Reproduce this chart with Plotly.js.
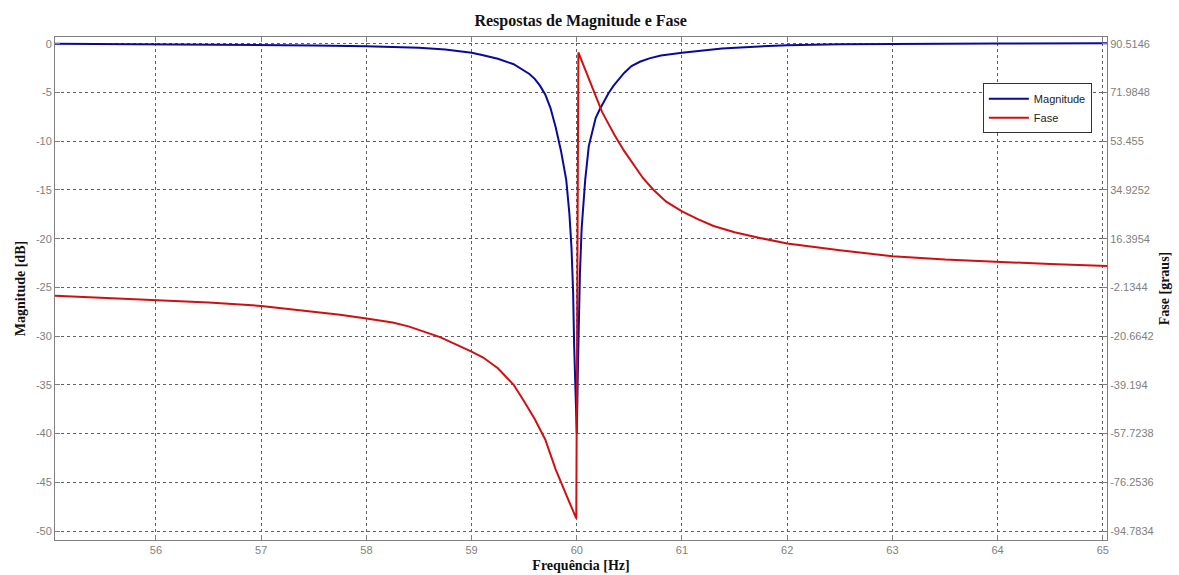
<!DOCTYPE html>
<html>
<head>
<meta charset="utf-8">
<script src="https://cdn.plot.ly/plotly-3.0.1.min.js"></script>
<style>html,body{margin:0;padding:0;background:#fff;}#chart{width:1179px;height:575px;}</style>
</head>
<body>
<div id="chart"></div>
<script>
// Magnitude response [dB]
const magFreq = [55.04, 56.0, 56.5, 57.0, 57.5, 58.0, 58.5, 58.75, 59.0, 59.1, 59.25, 59.4, 59.5, 59.55, 59.6, 59.65, 59.7, 59.75, 59.8, 59.85, 59.9, 59.93, 59.95, 59.965, 59.975, 59.99, 60.0, 60.012, 60.02, 60.03, 60.046, 60.06, 60.08, 60.114, 60.15, 60.18, 60.22, 60.26, 60.3, 60.35, 60.4, 60.45, 60.52, 60.6, 60.69, 60.8, 61.0, 61.2, 61.38, 61.6, 62.0, 62.5, 63.0, 64.0, 65.04];
const magDb = [0.0, -0.05, -0.09, -0.12, -0.18, -0.25, -0.42, -0.6, -0.93, -1.15, -1.55, -2.1, -2.76, -3.1, -3.6, -4.3, -5.2, -6.6, -8.6, -11.0, -14.0, -17.5, -21.0, -25.5, -31.0, -36.0, -40.0, -32.5, -27.0, -23.5, -19.0, -16.5, -13.96, -10.5, -8.9, -7.6, -6.7, -5.9, -5.1, -4.3, -3.6, -3.0, -2.3, -1.85, -1.5, -1.2, -0.93, -0.68, -0.5, -0.35, -0.15, -0.06, -0.02, 0.03, 0.05];

// Phase response [graus]
const phaseFreq = [55.04, 55.5, 56.0, 56.5, 57.0, 57.5, 57.75, 58.0, 58.25, 58.4, 58.5, 58.7, 59.0, 59.11, 59.25, 59.4, 59.5, 59.6, 59.7, 59.8, 59.9, 59.995, 60.015, 60.1, 60.19, 60.24, 60.3, 60.36, 60.45, 60.53, 60.63, 60.73, 60.85, 61.0, 61.15, 61.3, 61.5, 61.75, 62.0, 62.5, 63.0, 63.5, 64.0, 64.5, 65.04];
const phaseDeg = [-5.29, -6.03, -6.84, -7.88, -9.18, -11.40, -12.51, -13.99, -15.48, -16.96, -18.26, -21.04, -26.59, -28.82, -32.89, -39.19, -45.49, -52.17, -59.95, -71.43, -81.07, -89.97, 87.18, 78.66, 69.76, 64.57, 60.13, 55.68, 49.75, 44.93, 39.37, 34.92, 30.48, 26.77, 23.81, 21.21, 18.80, 16.58, 14.54, 11.95, 9.72, 8.43, 7.50, 6.76, 6.02];

// Tick labels
const xTicks = [56, 57, 58, 59, 60, 61, 62, 63, 64, 65];
const magTicks = [0, -5, -10, -15, -20, -25, -30, -35, -40, -45, -50];
const phaseTicks = [90.5146, 71.9848, 53.455, 34.9252, 16.3954, -2.1344, -20.6642, -39.194, -57.7238, -76.2536, -94.7834];
const phaseTickText = ['90.5146', '71.9848', '53.455', '34.9252', '16.3954', '-2.1344', '-20.6642', '-39.194', '-57.7238', '-76.2536', '-94.7834'];

const gridColor = '#606060';
const tickFont = {family: 'Liberation Sans, Arial, sans-serif', size: 11, color: '#808080'};
const titleFont = {family: 'Liberation Serif, Times New Roman, serif', size: 14, color: '#111111', weight: 'bold'};

const traces = [
  {x: magFreq, y: magDb, type: 'scatter', mode: 'lines', name: 'Magnitude',
   line: {color: '#0a0a9a', width: 2}, yaxis: 'y'},
  {x: phaseFreq, y: phaseDeg, type: 'scatter', mode: 'lines', name: 'Fase',
   line: {color: '#d01010', width: 2}, yaxis: 'y2'}
];

const layout = {
  width: 1179, height: 575,
  margin: {l: 55, r: 72, t: 37, b: 35},
  paper_bgcolor: '#ffffff', plot_bgcolor: '#ffffff',
  title: {text: 'Respostas de Magnitude e Fase', x: 0.4925, xanchor: 'center', y: 0.964, yanchor: 'middle',
          font: {family: 'Liberation Serif, Times New Roman, serif', size: 16, color: '#111111', weight: 'bold'}},
  showlegend: true,
  legend: {x: 0.882, y: 0.908, xanchor: 'left', yanchor: 'top', bgcolor: '#ffffff',
           bordercolor: '#333333', borderwidth: 1,
           font: {family: 'Liberation Sans, Arial, sans-serif', size: 11, color: '#222222'},
           tracegroupgap: 0, itemwidth: 40},
  xaxis: {range: [55.04, 65.04], tickvals: xTicks, ticktext: xTicks.map(String),
          showgrid: true, gridcolor: gridColor, griddash: '3px,3px', gridwidth: 1,
          zeroline: false, showline: true, linecolor: '#808080', linewidth: 1, mirror: 'ticks',
          ticks: 'inside', ticklen: 5, tickcolor: '#808080', tickfont: tickFont,
          title: {text: 'Frequência [Hz]', font: titleFont, standoff: 4}},
  yaxis: {range: [-50.92, 0.69], tickvals: magTicks, ticktext: magTicks.map(String),
          showgrid: true, gridcolor: gridColor, griddash: '3px,3px', gridwidth: 1,
          zeroline: false, showline: true, linecolor: '#808080', linewidth: 1,
          ticks: 'inside', ticklen: 5, tickcolor: '#808080', tickfont: tickFont,
          title: {text: 'Magnitude [dB]', font: titleFont, standoff: 6}},
  yaxis2: {range: [-98.19, 93.07], overlaying: 'y', side: 'right', tickvals: phaseTicks, ticktext: phaseTickText,
           showgrid: false, zeroline: false, showline: true, linecolor: '#808080', linewidth: 1,
           ticks: 'inside', ticklen: 5, tickcolor: '#808080', tickfont: tickFont,
           title: {text: 'Fase [graus]', font: titleFont, standoff: 6}}
};

Plotly.newPlot('chart', traces, layout, {displayModeBar: false, staticPlot: true});
</script>
</body>
</html>
